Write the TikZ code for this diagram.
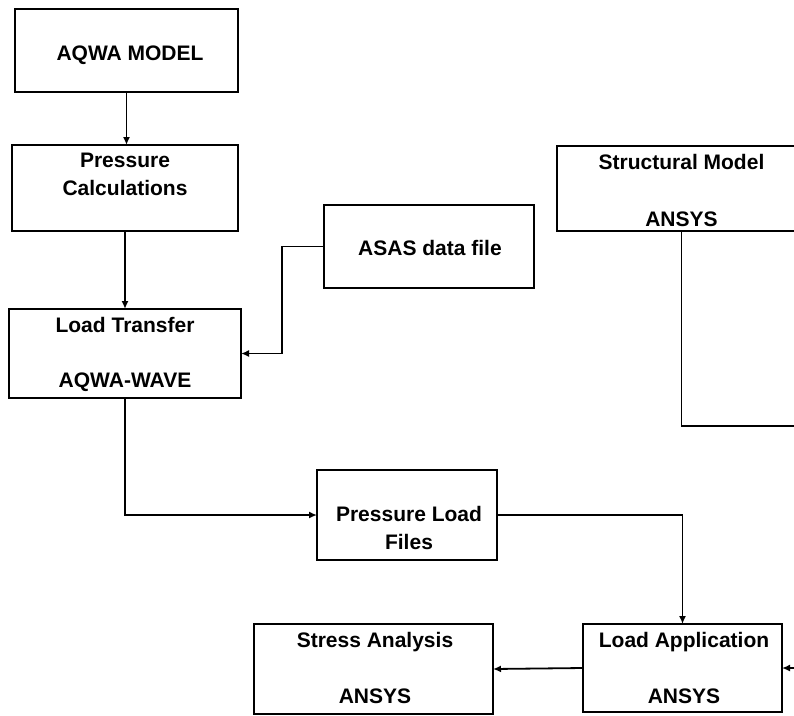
\documentclass[tikz,border=0pt]{standalone}
\usepackage{fontspec}
\setmainfont{Liberation Sans}
\usetikzlibrary{arrows.meta}
\begin{document}
\begin{tikzpicture}[x=1pt,y=-1pt,
  box/.style={draw=black,line width=1.7pt,fill=none,inner sep=0pt,outer sep=0pt,rectangle},
  lbl/.style={anchor=base,inner sep=0pt,font=\fontsize{21}{25}\selectfont\bfseries},
  link/.style={line width=1.8pt,draw=black},
  flow/.style={link,-{Latex[length=8pt,width=7pt]}}]
\useasboundingbox (0,0) rectangle (794,715);
\fill[white] (0,0) rectangle (794,715);

% boxes
\node[box,minimum width=223pt,minimum height=83pt] (aqwa)   at (126.5,50.5) {};
\node[box,minimum width=226pt,minimum height=86pt] (pcalc)  at (125,188) {};
\node[box,minimum width=232pt,minimum height=89pt] (ltrans) at (125,353.5) {};
\node[box,minimum width=210pt,minimum height=83pt] (asas)   at (429,246.5) {};
\node[box,minimum width=249pt,minimum height=85pt] (smodel) at (681.5,188.5) {};
\node[box,minimum width=180pt,minimum height=90pt] (pload)  at (407,515) {};
\node[box,minimum width=199pt,minimum height=88pt] (lapp)   at (682.5,668) {};
\node[box,minimum width=239pt,minimum height=90pt] (stress) at (373.5,669) {};

% labels
\node[lbl] (aqwa-t)    at (130,60)  {AQWA MODEL};
\node[lbl] (pcalc-t1)  at (125,167) {Pressure};
\node[lbl] (pcalc-t2)  at (125,195) {Calculations};
\node[lbl] (ltrans-t1) at (125,332) {Load Transfer};
\node[lbl] (ltrans-t2) at (125,387) {AQWA-WAVE};
\node[lbl] (asas-t)    at (430,255) {ASAS data file};
\node[lbl] (smodel-t1) at (681.5,169) {Structural Model};
\node[lbl] (smodel-t2) at (681.5,226) {ANSYS};
\node[lbl] (pload-t1)  at (409,521) {Pressure Load};
\node[lbl] (pload-t2)  at (409,549) {Files};
\node[lbl] (lapp-t1)   at (684,647) {Load Application};
\node[lbl] (lapp-t2)   at (684,703) {ANSYS};
\node[lbl] (stress-t1) at (375,647) {Stress Analysis};
\node[lbl] (stress-t2) at (375,703) {ANSYS};

% free ends at the right margin
\coordinate (smexit) at (794,426);
\coordinate (lappin) at (794,668);

% connectors
\draw[flow] (aqwa.south) -- (aqwa.south |- pcalc.north);
\draw[flow] (pcalc.south) -- (ltrans.north);
\draw[flow] (asas.west) -- ++(-42,0) |- (ltrans.east);
\draw[flow] (ltrans.south) |- (pload.west);
\draw[flow] (pload.east) -| (lapp.north);
\draw[link] (smodel.south) |- (smexit);
\draw[flow] (lappin) -- (lapp.east);
\draw[flow] (lapp.west) -- (stress.east);
\end{tikzpicture}
\end{document}
